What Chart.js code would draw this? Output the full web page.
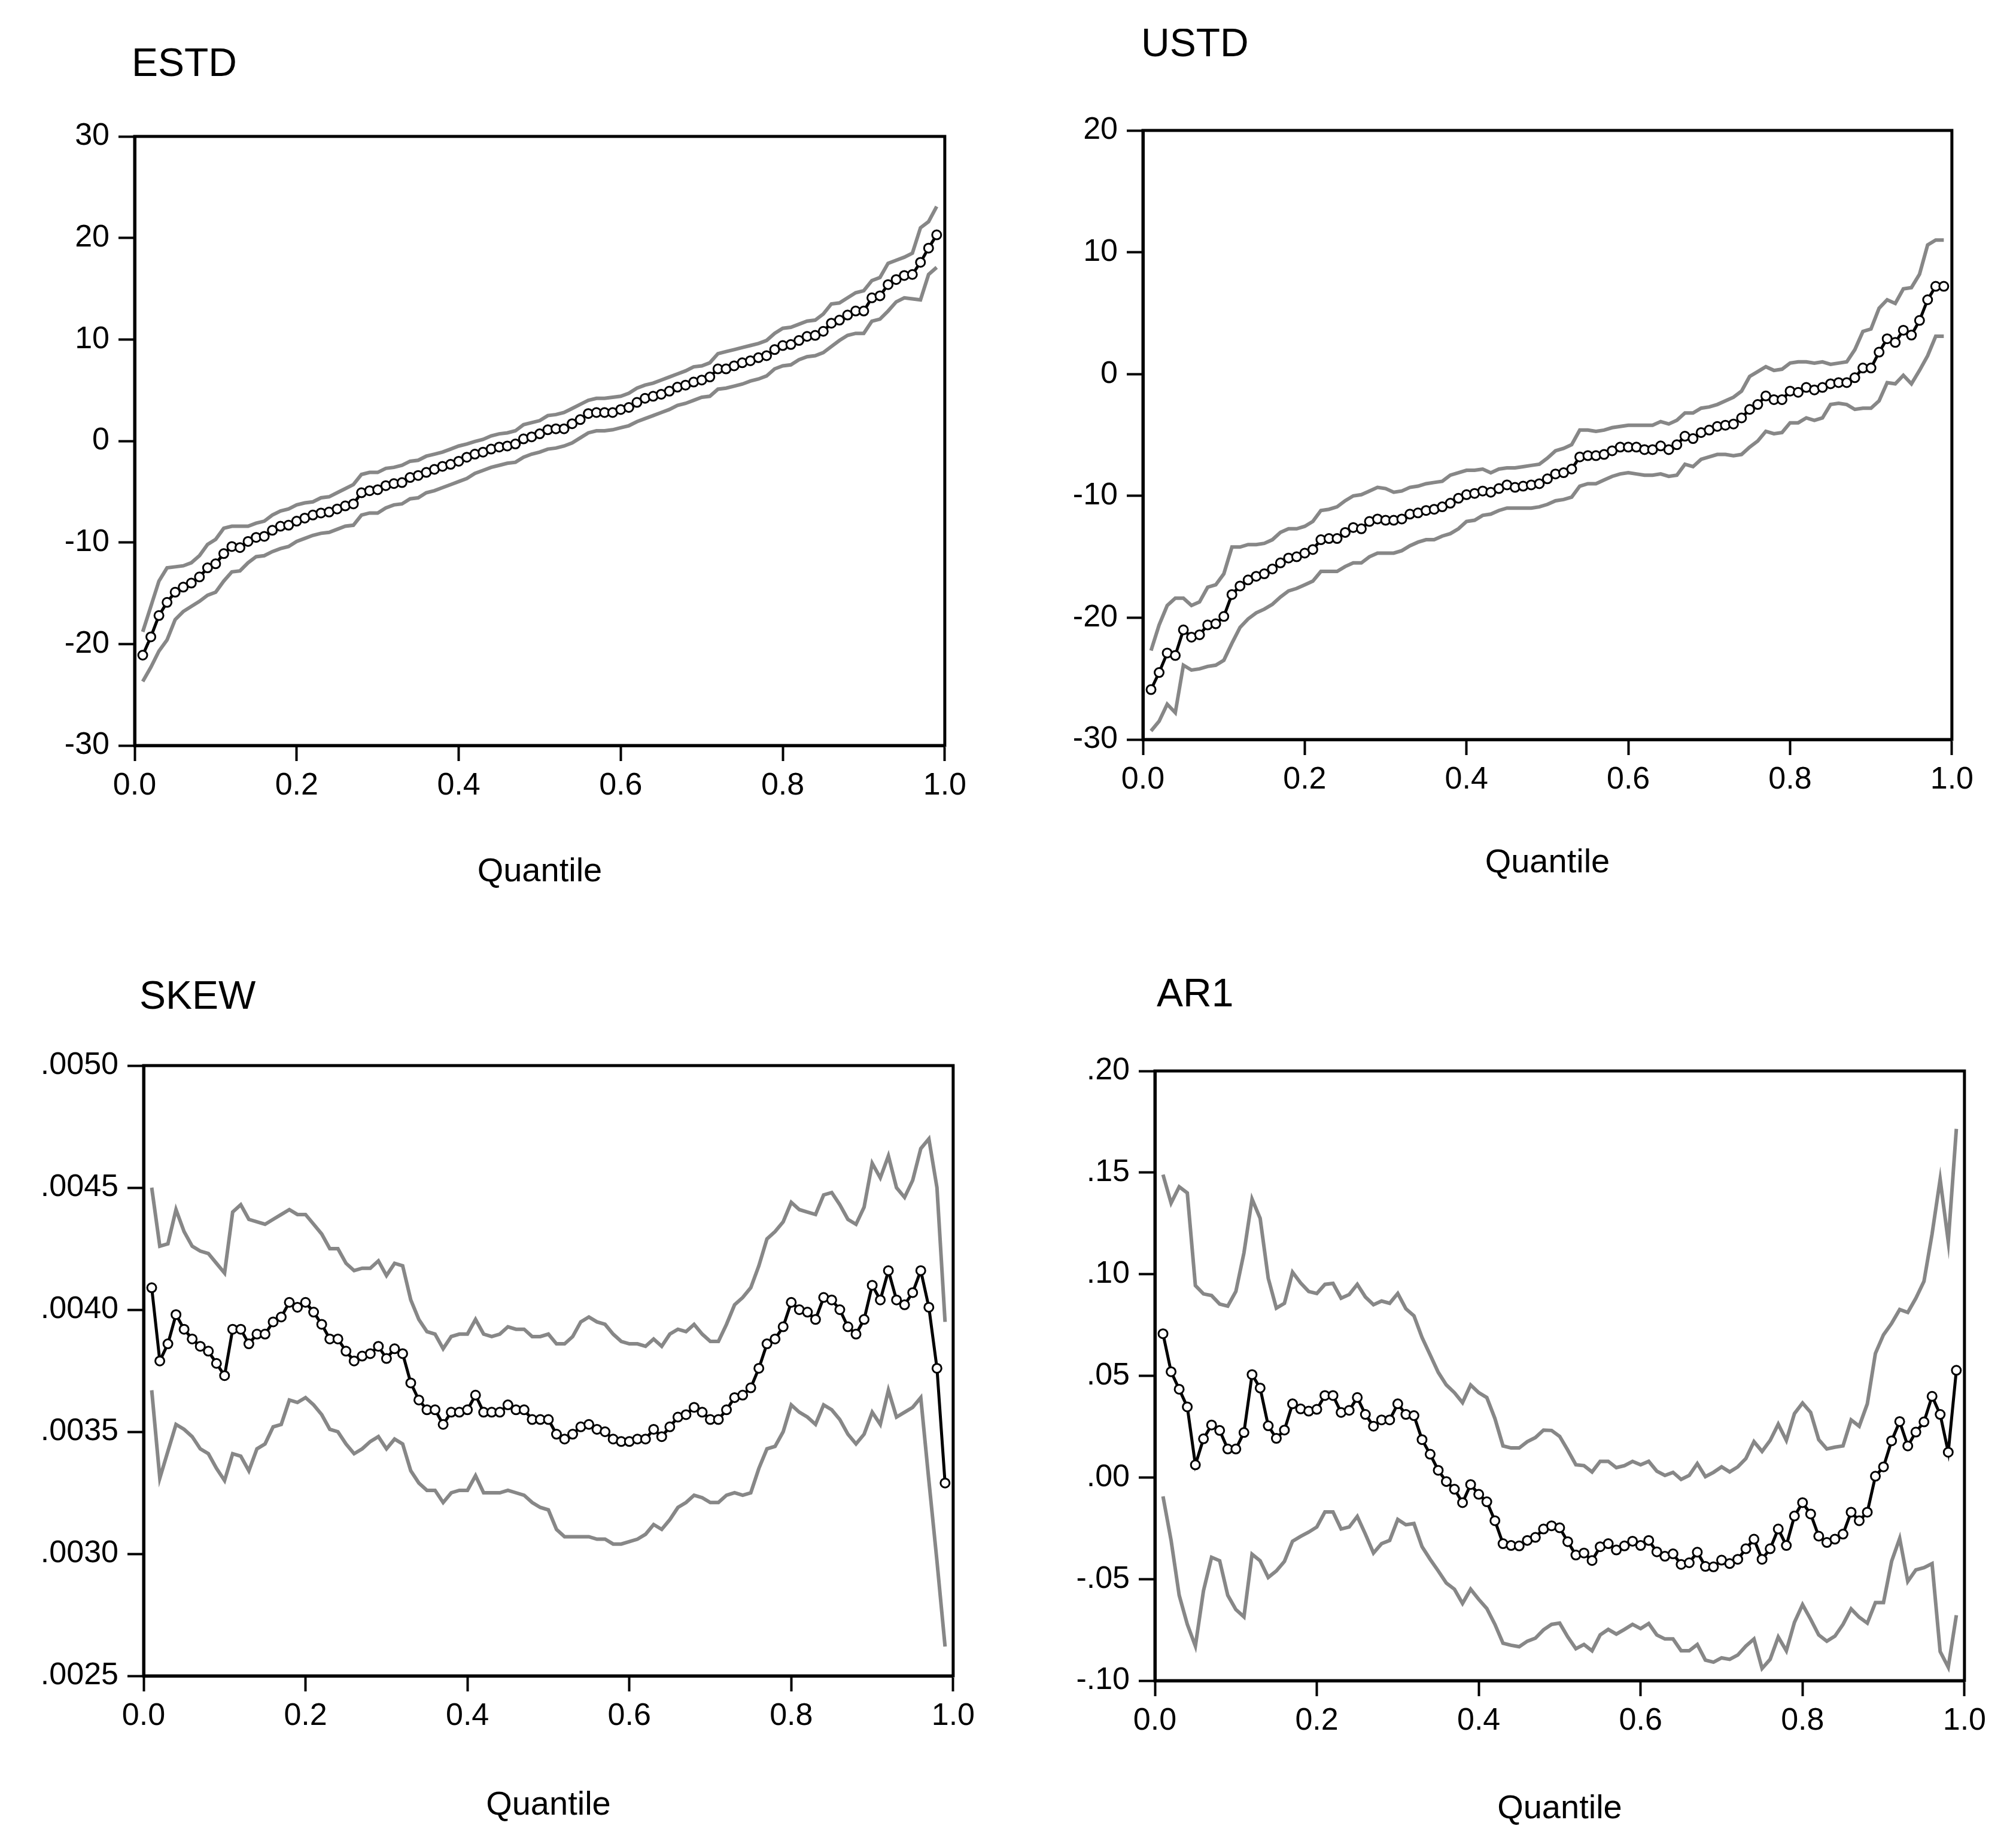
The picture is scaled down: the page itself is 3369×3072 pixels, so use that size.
<!DOCTYPE html>
<html>
<head>
<meta charset="utf-8">
<title>Quantile bands</title>
<script src="https://cdn.jsdelivr.net/npm/chart.js@4.4.1/dist/chart.umd.min.js"></script>
<style>
  html, body { margin: 0; padding: 0; background: #fff; }
  body { width: 3369px; height: 3072px; position: relative; overflow: hidden; }
  canvas { position: absolute; }
</style>
</head>
<body>
<canvas id="estd"></canvas>
<canvas id="ustd"></canvas>
<canvas id="skew"></canvas>
<canvas id="ar1"></canvas>
<script>
// quantiles on the x axis
const quantiles = [
  0.01, 0.02, 0.03, 0.04, 0.05, 0.06, 0.07, 0.08, 0.09, 0.10,
  0.11, 0.12, 0.13, 0.14, 0.15, 0.16, 0.17, 0.18, 0.19, 0.20,
  0.21, 0.22, 0.23, 0.24, 0.25, 0.26, 0.27, 0.28, 0.29, 0.30,
  0.31, 0.32, 0.33, 0.34, 0.35, 0.36, 0.37, 0.38, 0.39, 0.40,
  0.41, 0.42, 0.43, 0.44, 0.45, 0.46, 0.47, 0.48, 0.49, 0.50,
  0.51, 0.52, 0.53, 0.54, 0.55, 0.56, 0.57, 0.58, 0.59, 0.60,
  0.61, 0.62, 0.63, 0.64, 0.65, 0.66, 0.67, 0.68, 0.69, 0.70,
  0.71, 0.72, 0.73, 0.74, 0.75, 0.76, 0.77, 0.78, 0.79, 0.80,
  0.81, 0.82, 0.83, 0.84, 0.85, 0.86, 0.87, 0.88, 0.89, 0.90,
  0.91, 0.92, 0.93, 0.94, 0.95, 0.96, 0.97, 0.98, 0.99
];
const xTickValues = [0, 0.2, 0.4, 0.6, 0.8, 1.0];
const xTickLabels = ['0.0', '0.2', '0.4', '0.6', '0.8', '1.0'];

// ESTD
const estdMid = [
  -21.1, -19.3, -17.2, -15.9, -14.9, -14.4, -14.0, -13.4, -12.5, -12.1,
  -11.1, -10.4, -10.5, -9.9, -9.5, -9.4, -8.8, -8.4, -8.3, -7.9,
  -7.6, -7.3, -7.1, -7.0, -6.7, -6.4, -6.2, -5.1, -4.9, -4.8,
  -4.4, -4.2, -4.1, -3.6, -3.4, -3.1, -2.8, -2.5, -2.3, -2.0,
  -1.6, -1.3, -1.1, -0.8, -0.6, -0.5, -0.3, 0.2, 0.4, 0.7,
  1.1, 1.2, 1.2, 1.7, 2.1, 2.7, 2.8, 2.8, 2.8, 3.1,
  3.3, 3.8, 4.2, 4.4, 4.6, 4.9, 5.3, 5.5, 5.8, 6.0,
  6.3, 7.1, 7.1, 7.4, 7.7, 7.9, 8.2, 8.4, 9.0, 9.4,
  9.5, 9.9, 10.3, 10.4, 10.8, 11.6, 11.9, 12.4, 12.8, 12.8,
  14.1, 14.3, 15.4, 15.9, 16.3, 16.4, 17.6, 19.0, 20.3
];
const estdUpper = [
  -18.8, -16.3, -13.8, -12.5, -12.4, -12.3, -12.0, -11.3, -10.2, -9.7,
  -8.6, -8.4, -8.4, -8.4, -8.1, -7.9, -7.3, -6.9, -6.7, -6.3,
  -6.1, -6.0, -5.6, -5.5, -5.1, -4.7, -4.3, -3.3, -3.1, -3.1,
  -2.7, -2.6, -2.4, -2.0, -1.9, -1.5, -1.3, -1.1, -0.8, -0.5,
  -0.3, -0.05, 0.15, 0.5, 0.7, 0.8, 1.0, 1.6, 1.8, 2.0,
  2.5, 2.6, 2.8, 3.2, 3.6, 4.0, 4.2, 4.2, 4.3, 4.4,
  4.7, 5.2, 5.5, 5.7, 6.0, 6.3, 6.6, 6.9, 7.3, 7.4,
  7.7, 8.6, 8.8, 9.0, 9.2, 9.4, 9.6, 9.9, 10.6, 11.1,
  11.2, 11.5, 11.8, 11.9, 12.5, 13.5, 13.6, 14.1, 14.6, 14.8,
  15.8, 16.1, 17.5, 17.8, 18.1, 18.5, 21.0, 21.6, 23.1
];
const estdLower = [
  -23.7, -22.3, -20.7, -19.6, -17.6, -16.8, -16.3, -15.8, -15.2, -14.9,
  -13.8, -12.9, -12.8, -12.0, -11.4, -11.3, -10.9, -10.6, -10.4, -9.9,
  -9.6, -9.3, -9.1, -9.0, -8.7, -8.4, -8.3, -7.3, -7.1, -7.1,
  -6.6, -6.3, -6.2, -5.7, -5.6, -5.1, -4.9, -4.6, -4.3, -4.0,
  -3.7, -3.2, -2.9, -2.6, -2.4, -2.2, -2.1, -1.6, -1.3, -1.1,
  -0.8, -0.7, -0.5, -0.2, 0.3, 0.8, 1.0, 1.0, 1.1, 1.3,
  1.5, 1.9, 2.2, 2.5, 2.8, 3.1, 3.5, 3.7, 4.0, 4.3,
  4.4, 5.1, 5.2, 5.4, 5.6, 5.9, 6.1, 6.4, 7.1, 7.4,
  7.5, 8.0, 8.3, 8.4, 8.7, 9.3, 9.9, 10.4, 10.6, 10.6,
  11.8, 12.0, 12.8, 13.7, 14.1, 14.0, 13.9, 16.4, 17.1
];
const estdTicks = [-30, -20, -10, 0, 10, 20, 30];
const estdTickLabels = ['-30', '-20', '-10', '0', '10', '20', '30'];

// USTD
const ustdMid = [
  -25.9, -24.5, -22.9, -23.1, -21.0, -21.6, -21.4, -20.6, -20.5, -19.9,
  -18.1, -17.4, -16.9, -16.6, -16.4, -16.0, -15.5, -15.1, -15.0, -14.7,
  -14.4, -13.6, -13.5, -13.5, -13.0, -12.6, -12.7, -12.1, -11.9, -12.0,
  -12.0, -11.9, -11.5, -11.4, -11.2, -11.1, -10.9, -10.6, -10.2, -9.9,
  -9.8, -9.6, -9.7, -9.4, -9.1, -9.3, -9.2, -9.1, -9.0, -8.6,
  -8.2, -8.1, -7.8, -6.8, -6.7, -6.7, -6.6, -6.3, -6.0, -6.0,
  -6.0, -6.2, -6.2, -5.9, -6.2, -5.8, -5.1, -5.3, -4.8, -4.6,
  -4.3, -4.2, -4.1, -3.6, -2.9, -2.5, -1.8, -2.1, -2.1, -1.4,
  -1.5, -1.1, -1.3, -1.1, -0.8, -0.7, -0.7, -0.3, 0.5, 0.5,
  1.8, 2.9, 2.6, 3.6, 3.2, 4.4, 6.1, 7.2, 7.2
];
const ustdUpper = [
  -22.7, -20.6, -19.0, -18.4, -18.4, -19.0, -18.7, -17.5, -17.3, -16.4,
  -14.2, -14.2, -14.0, -14.0, -13.9, -13.6, -13.0, -12.7, -12.7, -12.5,
  -12.1, -11.2, -11.1, -10.9, -10.4, -10.0, -9.9, -9.6, -9.3, -9.4,
  -9.7, -9.6, -9.3, -9.2, -9.0, -8.9, -8.8, -8.3, -8.1, -7.9,
  -7.9, -7.8, -8.1, -7.8, -7.7, -7.7, -7.6, -7.5, -7.4, -6.9,
  -6.3, -6.1, -5.8, -4.6, -4.6, -4.7, -4.6, -4.4, -4.3, -4.2,
  -4.2, -4.2, -4.2, -3.9, -4.1, -3.8, -3.2, -3.2, -2.8, -2.7,
  -2.5, -2.2, -1.9, -1.4, -0.2, 0.2, 0.6, 0.3, 0.4, 0.9,
  1.0, 1.0, 0.9, 1.0, 0.8, 0.9, 1.0, 2.0, 3.5, 3.7,
  5.4, 6.1, 5.8, 7.0, 7.1, 8.2, 10.6, 11.0, 11.0
];
const ustdLower = [
  -29.3, -28.5, -27.1, -27.8, -23.9, -24.3, -24.2, -24.0, -23.9, -23.5,
  -22.1, -20.8, -20.1, -19.6, -19.3, -18.9, -18.3, -17.8, -17.6, -17.3,
  -17.0, -16.2, -16.2, -16.2, -15.8, -15.5, -15.5, -15.0, -14.7, -14.7,
  -14.7, -14.5, -14.1, -13.8, -13.6, -13.6, -13.3, -13.1, -12.7, -12.1,
  -12.0, -11.6, -11.5, -11.2, -11.0, -11.0, -11.0, -11.0, -10.9, -10.7,
  -10.4, -10.3, -10.1, -9.2, -9.0, -9.0, -8.7, -8.4, -8.2, -8.1,
  -8.2, -8.3, -8.3, -8.2, -8.4, -8.3, -7.4, -7.6, -7.0, -6.8,
  -6.6, -6.6, -6.7, -6.6, -6.0, -5.5, -4.7, -4.9, -4.8, -4.0,
  -4.0, -3.6, -3.8, -3.6, -2.5, -2.4, -2.5, -2.9, -2.8, -2.8,
  -2.2, -0.7, -0.8, -0.1, -0.8, 0.3, 1.5, 3.1, 3.1
];
const ustdTicks = [-30, -20, -10, 0, 10, 20];
const ustdTickLabels = ['-30', '-20', '-10', '0', '10', '20'];

// SKEW
const skewMid = [
  0.00409, 0.00379, 0.00386, 0.00398, 0.00392, 0.00388, 0.00385, 0.00383, 0.00378, 0.00373,
  0.00392, 0.00392, 0.00386, 0.00390, 0.00390, 0.00395, 0.00397, 0.00403, 0.00401, 0.00403,
  0.00399, 0.00394, 0.00388, 0.00388, 0.00383, 0.00379, 0.00381, 0.00382, 0.00385, 0.00380,
  0.00384, 0.00382, 0.00370, 0.00363, 0.00359, 0.00359, 0.00353, 0.00358, 0.00358, 0.00359,
  0.00365, 0.00358, 0.00358, 0.00358, 0.00361, 0.00359, 0.00359, 0.00355, 0.00355, 0.00355,
  0.00349, 0.00347, 0.00349, 0.00352, 0.00353, 0.00351, 0.00350, 0.00347, 0.00346, 0.00346,
  0.00347, 0.00347, 0.00351, 0.00348, 0.00352, 0.00356, 0.00357, 0.00360, 0.00358, 0.00355,
  0.00355, 0.00359, 0.00364, 0.00365, 0.00368, 0.00376, 0.00386, 0.00388, 0.00393, 0.00403,
  0.00400, 0.00399, 0.00396, 0.00405, 0.00404, 0.00400, 0.00393, 0.00390, 0.00396, 0.00410,
  0.00404, 0.00416, 0.00404, 0.00402, 0.00407, 0.00416, 0.00401, 0.00376, 0.00329
];
const skewUpper = [
  0.00450, 0.00426, 0.00427, 0.00441, 0.00432, 0.00426, 0.00424, 0.00423, 0.00419, 0.00415,
  0.00440, 0.00443, 0.00437, 0.00436, 0.00435, 0.00437, 0.00439, 0.00441, 0.00439, 0.00439,
  0.00435, 0.00431, 0.00425, 0.00425, 0.00419, 0.00416, 0.00417, 0.00417, 0.00420, 0.00414,
  0.00419, 0.00418, 0.00404, 0.00396, 0.00391, 0.00390, 0.00384, 0.00389, 0.00390, 0.00390,
  0.00396, 0.00390, 0.00389, 0.00390, 0.00393, 0.00392, 0.00392, 0.00389, 0.00389, 0.00390,
  0.00386, 0.00386, 0.00389, 0.00395, 0.00397, 0.00395, 0.00394, 0.00390, 0.00387, 0.00386,
  0.00386, 0.00385, 0.00388, 0.00385, 0.00390, 0.00392, 0.00391, 0.00394, 0.00390, 0.00387,
  0.00387, 0.00394, 0.00402, 0.00405, 0.00409, 0.00418, 0.00429, 0.00432, 0.00436, 0.00444,
  0.00441, 0.00440, 0.00439, 0.00447, 0.00448, 0.00443, 0.00437, 0.00435, 0.00442, 0.00460,
  0.00454, 0.00463, 0.00450, 0.00446, 0.00453, 0.00466, 0.00470, 0.00450, 0.00395
];
const skewLower = [
  0.00367, 0.00331, 0.00342, 0.00353, 0.00351, 0.00348, 0.00343, 0.00341, 0.00335, 0.00330,
  0.00341, 0.00340, 0.00334, 0.00343, 0.00345, 0.00352, 0.00353, 0.00363, 0.00362, 0.00364,
  0.00361, 0.00357, 0.00351, 0.00350, 0.00345, 0.00341, 0.00343, 0.00346, 0.00348, 0.00343,
  0.00347, 0.00345, 0.00334, 0.00329, 0.00326, 0.00326, 0.00321, 0.00325, 0.00326, 0.00326,
  0.00332, 0.00325, 0.00325, 0.00325, 0.00326, 0.00325, 0.00324, 0.00321, 0.00319, 0.00318,
  0.00310, 0.00307, 0.00307, 0.00307, 0.00307, 0.00306, 0.00306, 0.00304, 0.00304, 0.00305,
  0.00306, 0.00308, 0.00312, 0.00310, 0.00314, 0.00319, 0.00321, 0.00324, 0.00323, 0.00321,
  0.00321, 0.00324, 0.00325, 0.00324, 0.00325, 0.00335, 0.00343, 0.00344, 0.00350, 0.00361,
  0.00358, 0.00356, 0.00353, 0.00361, 0.00359, 0.00355, 0.00349, 0.00345, 0.00349, 0.00358,
  0.00353, 0.00367, 0.00356, 0.00358, 0.00360, 0.00364, 0.00330, 0.00297, 0.00262
];
const skewTicks = [0.0025, 0.0030, 0.0035, 0.0040, 0.0045, 0.0050];
const skewTickLabels = ['.0025', '.0030', '.0035', '.0040', '.0045', '.0050'];

// AR1
const ar1Mid = [
  0.0707, 0.0520, 0.0434, 0.0347, 0.0062, 0.0190, 0.0258, 0.0231, 0.0140, 0.0140,
  0.0221, 0.0506, 0.0440, 0.0254, 0.0192, 0.0233, 0.0362, 0.0337, 0.0326, 0.0335,
  0.0403, 0.0403, 0.0320, 0.0330, 0.0393, 0.0310, 0.0252, 0.0283, 0.0283, 0.0362,
  0.0310, 0.0304, 0.0186, 0.0114, 0.0035, -0.0020, -0.0058, -0.0124, -0.0035, -0.0083,
  -0.0120, -0.0213, -0.0326, -0.0335, -0.0337, -0.0310, -0.0295, -0.0254, -0.0238, -0.0248,
  -0.0316, -0.0382, -0.0372, -0.0409, -0.0341, -0.0326, -0.0357, -0.0337, -0.0314, -0.0335,
  -0.0310, -0.0366, -0.0388, -0.0376, -0.0428, -0.0420, -0.0368, -0.0438, -0.0440, -0.0407,
  -0.0424, -0.0403, -0.0351, -0.0304, -0.0403, -0.0351, -0.0254, -0.0335, -0.0190, -0.0124,
  -0.0180, -0.0289, -0.0320, -0.0304, -0.0279, -0.0171, -0.0213, -0.0171, 0.0006, 0.0052,
  0.0180, 0.0275, 0.0155, 0.0223, 0.0273, 0.0399, 0.0310, 0.0124, 0.0527
];
const ar1Upper = [
  0.1490, 0.1350, 0.1430, 0.1400, 0.0944, 0.0903, 0.0895, 0.0853, 0.0843, 0.0915,
  0.1105, 0.1370, 0.1275, 0.0980, 0.0833, 0.0857, 0.1010, 0.0957, 0.0915, 0.0905,
  0.0950, 0.0955, 0.0882, 0.0900, 0.0950, 0.0888, 0.0850, 0.0868, 0.0857, 0.0905,
  0.0830, 0.0795, 0.0688, 0.0603, 0.0517, 0.0455, 0.0417, 0.0368, 0.0455, 0.0417,
  0.0393, 0.0290, 0.0155, 0.0145, 0.0145, 0.0176, 0.0196, 0.0233, 0.0231, 0.0202,
  0.0134, 0.0062, 0.0058, 0.0027, 0.0079, 0.0079, 0.0048, 0.0058, 0.0079, 0.0062,
  0.0079, 0.0031, 0.0010, 0.0025, -0.0010, 0.0010, 0.0068, 0.0004, 0.0025, 0.0052,
  0.0027, 0.0052, 0.0093, 0.0176, 0.0128, 0.0182, 0.0262, 0.0182, 0.0314, 0.0366,
  0.0320, 0.0186, 0.0140, 0.0149, 0.0155, 0.0283, 0.0252, 0.0362, 0.0610, 0.0702,
  0.0758, 0.0826, 0.0812, 0.0882, 0.0965, 0.1198, 0.1467, 0.1160, 0.1715
];
const ar1Lower = [
  -0.0093, -0.0310, -0.0580, -0.0723, -0.0830, -0.0558, -0.0393, -0.0410, -0.0580, -0.0650,
  -0.0686, -0.0378, -0.0410, -0.0492, -0.0460, -0.0413, -0.0314, -0.0290, -0.0269, -0.0244,
  -0.0170, -0.0170, -0.0254, -0.0244, -0.0192, -0.0279, -0.0372, -0.0326, -0.0310, -0.0207,
  -0.0233, -0.0227, -0.0341, -0.0403, -0.0460, -0.0520, -0.0550, -0.0620, -0.0550, -0.0600,
  -0.0645, -0.0723, -0.0816, -0.0826, -0.0833, -0.0806, -0.0791, -0.0750, -0.0723, -0.0717,
  -0.0785, -0.0843, -0.0822, -0.0853, -0.0775, -0.0748, -0.0771, -0.0748, -0.0723, -0.0744,
  -0.0719, -0.0775, -0.0795, -0.0795, -0.0853, -0.0853, -0.0822, -0.0899, -0.0909, -0.0888,
  -0.0895, -0.0874, -0.0830, -0.0795, -0.0940, -0.0895, -0.0785, -0.0853, -0.0713, -0.0626,
  -0.0698, -0.0775, -0.0806, -0.0781, -0.0723, -0.0647, -0.0688, -0.0717, -0.0616, -0.0616,
  -0.0413, -0.0300, -0.0512, -0.0455, -0.0444, -0.0424, -0.0857, -0.0934, -0.0678
];
const ar1Ticks = [-0.10, -0.05, 0.00, 0.05, 0.10, 0.15, 0.20];
const ar1TickLabels = ['-.10', '-.05', '.00', '.05', '.10', '.15', '.20'];

// ---- drawing ----
const FONT = '"Liberation Sans", Arial, sans-serif';
const GREY = '#878787';
const AXIS_W = 220, TOP_PAD = 170, RIGHT_PAD = 40, X_AXIS_H = 260;

// box outline round the plot area
const framePlugin = {
  id: 'frame',
  afterDatasetsDraw(chart) {
    const { ctx, chartArea: a } = chart;
    ctx.save();
    ctx.strokeStyle = '#000';
    ctx.lineWidth = 5;
    ctx.strokeRect(a.left, a.top, a.right - a.left, a.bottom - a.top);
    ctx.restore();
  }
};

// panel name above the top-left corner
const panelTitlePlugin = {
  id: 'panelTitle',
  afterDraw(chart, args, opts) {
    const { ctx, chartArea: a } = chart;
    ctx.save();
    ctx.fillStyle = '#000';
    ctx.font = opts.size + 'px ' + FONT;
    ctx.textAlign = 'left';
    ctx.textBaseline = 'middle';
    ctx.fillText(opts.text, a.left + opts.dx, a.top - opts.dy);
    ctx.restore();
  }
};

const pts = arr => arr.map((v, i) => ({ x: quantiles[i], y: v }));

function drawPanel(id, box, title, mid, upper, lower, yTicks, yTickLabels) {
  const canvas = document.getElementById(id);
  const w = AXIS_W + (box.right - box.left) + RIGHT_PAD;
  const h = TOP_PAD + (box.bottom - box.top) + X_AXIS_H;
  canvas.width = w;
  canvas.height = h;
  canvas.style.width = w + 'px';
  canvas.style.height = h + 'px';
  canvas.style.left = (box.left - AXIS_W) + 'px';
  canvas.style.top = (box.top - TOP_PAD) + 'px';

  const band = data => ({
    data: pts(data),
    borderColor: GREY,
    borderWidth: 6,
    pointRadius: 0,
    tension: 0
  });

  return new Chart(canvas.getContext('2d'), {
    type: 'line',
    data: {
      datasets: [
        band(upper),
        band(lower),
        {
          data: pts(mid),
          borderColor: '#000',
          borderWidth: 5,
          pointRadius: 7.5,
          pointBorderWidth: 3,
          pointBackgroundColor: '#fff',
          pointBorderColor: '#000',
          tension: 0
        }
      ]
    },
    options: {
      responsive: false,
      animation: false,
      devicePixelRatio: 1,
      layout: { padding: { top: TOP_PAD, right: RIGHT_PAD, left: 0, bottom: 0 } },
      plugins: {
        legend: { display: false },
        tooltip: { enabled: false },
        panelTitle: { text: title, size: 66, dx: box.titleDx, dy: box.titleDy }
      },
      scales: {
        x: {
          type: 'linear',
          min: 0,
          max: 1,
          afterBuildTicks: s => { s.ticks = xTickValues.map(v => ({ value: v })); },
          afterFit: s => { s.height = X_AXIS_H; },
          ticks: {
            callback: (v, i) => xTickLabels[i],
            font: { family: FONT, size: 52 },
            color: '#000',
            padding: 10,
            maxRotation: 0,
            autoSkip: false
          },
          grid: { drawOnChartArea: false, drawTicks: true, tickLength: 26, tickColor: '#000', tickWidth: 4 },
          border: { display: true, color: '#000', width: 5 },
          title: {
            display: true,
            text: 'Quantile',
            color: '#000',
            font: { family: FONT, size: 56 },
            padding: { top: 0, bottom: box.qPad }
          }
        },
        y: {
          min: yTicks[0],
          max: yTicks[yTicks.length - 1],
          afterBuildTicks: s => { s.ticks = yTicks.map(v => ({ value: v })); },
          afterFit: s => { s.width = AXIS_W; },
          ticks: {
            callback: (v, i) => yTickLabels[i],
            font: { family: FONT, size: 52 },
            color: '#000',
            padding: 15,
            autoSkip: false
          },
          grid: { drawOnChartArea: false, drawTicks: true, tickLength: 27, tickColor: '#000', tickWidth: 4 },
          border: { display: true, color: '#000', width: 5 }
        }
      }
    },
    plugins: [framePlugin, panelTitlePlugin]
  });
}

drawPanel('estd', { left: 225, right: 1585, top: 228, bottom: 1246, titleDx: -5, titleDy: 119, qPad: 15 },
  'ESTD', estdMid, estdUpper, estdLower, estdTicks, estdTickLabels);
drawPanel('ustd', { left: 1910, right: 3268, top: 218, bottom: 1236, titleDx: -3, titleDy: 142, qPad: 20 },
  'USTD', ustdMid, ustdUpper, ustdLower, ustdTicks, ustdTickLabels);
drawPanel('skew', { left: 240, right: 1599, top: 1781, bottom: 2801, titleDx: -7, titleDy: 113, qPad: 10 },
  'SKEW', skewMid, skewUpper, skewLower, skewTicks, skewTickLabels);
drawPanel('ar1', { left: 1930, right: 3289, top: 1790, bottom: 2809, titleDx: 3, titleDy: 126, qPad: 12 },
  'AR1', ar1Mid, ar1Upper, ar1Lower, ar1Ticks, ar1TickLabels);
</script>
</body>
</html>
